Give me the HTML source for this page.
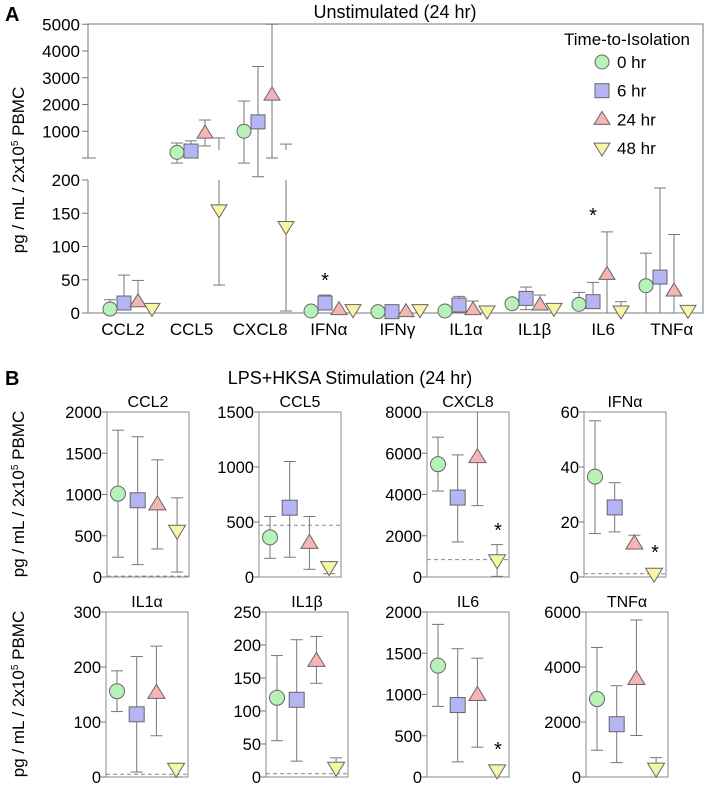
<!DOCTYPE html>
<html><head><meta charset="utf-8">
<style>
html,body{margin:0;padding:0;background:#fff;}
svg{display:block;font-family:"Liberation Sans",Arial,sans-serif;}
</style></head>
<body>
<svg id="fig" width="708" height="786" viewBox="0 0 708 786" xmlns="http://www.w3.org/2000/svg">
<text x="5" y="21" font-size="20" font-weight="bold">A</text>
<text x="395" y="18" font-size="18" text-anchor="middle">Unstimulated (24 hr)</text>
<text x="5" y="385" font-size="20" font-weight="bold">B</text>
<text x="350" y="384" font-size="18" text-anchor="middle">LPS+HKSA Stimulation (24 hr)</text>
<text transform="translate(24,170) rotate(-90)" font-size="17" text-anchor="middle">pg / mL / 2x10<tspan font-size="10" dy="-6">5</tspan><tspan dy="6"> PBMC</tspan></text>
<text transform="translate(24,494) rotate(-90)" font-size="17" text-anchor="middle">pg / mL / 2x10<tspan font-size="10" dy="-6">5</tspan><tspan dy="6"> PBMC</tspan></text>
<text transform="translate(24,694) rotate(-90)" font-size="17" text-anchor="middle">pg / mL / 2x10<tspan font-size="10" dy="-6">5</tspan><tspan dy="6"> PBMC</tspan></text>
<g id="gA"></g>
<g id="gB"></g>
</svg>
<script>
// ---- Panel A data ----
const catsA = ["CCL2","CCL5","CXCL8","IFN\u03b1","IFN\u03b3","IL1\u03b1","IL1\u03b2","IL6","TNF\u03b1"];
const seriesNames = ["0 hr","6 hr","24 hr","48 hr"];
const upperTicksA = [1000,2000,3000,4000,5000];
const lowerTicksA = [0,50,100,150,200];
const a0Mean = [6,210,1000,3,2,3,14,13,41];
const a0Hi   = [20,560,2130,null,null,null,null,31,90];
const a0Lo   = [null,-190,-190,null,null,null,null,null,0];
const a6Mean = [15,260,1350,15,2,12,22,17,54];
const a6Hi   = [57,640,3420,27,null,25,39,46,188];
const a6Lo   = [null,0,-700,null,null,null,5,null,0];
const a24Mean= [17,930,2350,5,2,5,12,58,33];
const a24Hi  = [49,1420,5000,null,null,18,27,122,118];
const a24Lo  = [null,450,0,null,null,null,null,0,0];
const a48Mean= [7,155,130,5,5,3,7,3,4];
const a48Hi  = [null,750,520,null,8,null,null,17,10];
const a48Lo  = [null,42,3,null,null,null,null,null,null];
const starsA = ["IFN\u03b1","IL6"];

// ---- Panel B data ----
const catsB = ["CCL2","CCL5","CXCL8","IFN\u03b1","IL1\u03b1","IL1\u03b2","IL6","TNF\u03b1"];
const maxB = [2000,1500,8000,60,300,250,2000,6000];
const stepB = [500,500,2000,20,100,50,500,2000];
const dashB = [10,470,840,1.2,5,5,0,0];
const bMean = [[1010,930,880,560],[360,630,310,90],[5470,3850,5810,810],[36.5,25.3,12.2,1.2],
               [156,114,153,15],[120,117,176,14],[1350,872,994,80],[2835,1920,3565,305]];
const bHi   = [[1780,1700,1420,960],[550,1050,550,null],[6780,5920,8000,1570],[56.8,34.3,15.2,null],
               [193,219,238,null],[184,208,213,29],[1850,1555,1440,142],[4710,3320,5710,705]];
const bLo   = [[240,150,340,60],[170,180,70,30],[4170,1700,3460,30],[15.8,16.4,null,null],
               [119,9,75,0],[55,24,142,null],[856,183,362,null],[973,523,1510,null]];
const starsB = ["CXCL8","IFN\u03b1","IL6"];
const starYB = [null,null,2330,9.5,null,null,350,null];

// ---- drawing ----
const NS="http://www.w3.org/2000/svg";
const fills=["#b9f2b9","#b5b5f5","#f5b5b5","#f8f5a8"];
const STROKE="#666";
function mk(tag,attrs,parent){const e=document.createElementNS(NS,tag);for(const k in attrs)e.setAttribute(k,attrs[k]);parent.appendChild(e);return e;}
function line(p,x1,y1,x2,y2,extra){return mk("line",Object.assign({x1,y1,x2,y2,stroke:"#777","stroke-width":1},extra||{}),p);}
function marker(p,k,x,y,s){
  let e;
  if(k===0) e=mk("circle",{cx:x,cy:y,r:s,fill:fills[0],stroke:STROKE},p);
  else if(k===1) e=mk("rect",{x:x-s,y:y-s,width:2*s,height:2*s,fill:fills[1],stroke:STROKE},p);
  else if(k===2) e=mk("polygon",{points:`${x},${y-s-1} ${x-s-1},${y+s-2} ${x+s+1},${y+s-2}`,fill:fills[2],stroke:STROKE},p);
  else e=mk("polygon",{points:`${x},${y+s+1} ${x-s-1},${y-s+2} ${x+s+1},${y-s+2}`,fill:fills[3],stroke:STROKE},p);
  return e;
}
const gA=document.getElementById("gA");
const AL=88,AR=703,AT=24,AB=313;
function yUp(v){return 158-v*0.02675;}
function yLow(v){return 313-v*0.665;}
mk("polyline",{points:`${AL},158 ${AL},${AT} ${AR},${AT} ${AR},${AB} ${AL},${AB} ${AL},180`,fill:"none",stroke:"#777"},gA);
line(gA,AL-6,158,AL+8,158);
upperTicksA.forEach(t=>{line(gA,AL-6,yUp(t),AL,yUp(t));const tx=mk("text",{x:AL-8,y:yUp(t)+6,"font-size":17,"text-anchor":"end"},gA);tx.textContent=t;

});
lowerTicksA.forEach(t=>{line(gA,AL-6,yLow(t),AL,yLow(t));const tx=mk("text",{x:AL-8,y:yLow(t)+6,"font-size":17,"text-anchor":"end"},gA);tx.textContent=t;

});
catsA.forEach((c,i)=>{const tx=mk("text",{x:123+68.6*i,y:335,"font-size":17,"text-anchor":"middle"},gA);tx.textContent=c;

});
const AS=[[a0Mean,a0Hi,a0Lo],[a6Mean,a6Hi,a6Lo],[a24Mean,a24Hi,a24Lo],[a48Mean,a48Hi,a48Lo]];
AS.forEach((s,k)=>{
  const g=mk("g",{},gA);
  
  
  s[0].forEach((m,i)=>{
    const x=110+67*i+14*k;
    const up=m>200;
    const f=up?yUp:yLow;
    const ym=f(m);
    const hi=s[1][i], lo=s[2][i];
    if(hi!=null){
      if(!up && hi>200){line(g,x,ym,x,yLow(200));line(g,x,150,x,yUp(hi));line(g,x-6,yUp(hi),x+6,yUp(hi));}
      else{line(g,x,ym,x,f(hi));line(g,x-6,f(hi),x+6,f(hi));}
    }
    if(lo!=null){line(g,x,ym,x,f(lo));line(g,x-6,f(lo),x+6,f(lo));}
    const mm=marker(g,k,x,ym,7);
    
    
  });
});
starsA.forEach(c=>{const i=catsA.indexOf(c);const tx=mk("text",{x:110+67*i+14,y:(i===7?222:287),"font-size":20,"text-anchor":"middle"},gA);tx.textContent="*";

});
const lg=mk("g",{},gA);


const lt=mk("text",{x:627,y:45,"font-size":17,"text-anchor":"middle"},lg);lt.textContent="Time-to-Isolation";
seriesNames.forEach((n,k)=>{const y=62+28.7*k;marker(lg,k,602,y,7);const tx=mk("text",{x:617,y:y+6,"font-size":17},lg);tx.textContent=n;

});

// Panel B
const gB=document.getElementById("gB");
const boxL=[107,259,427,584,106,266,427,586];
catsB.forEach((c,p)=>{
  const L=boxL[p], W=82, T=p<4?412:612, B=p<4?577:777;
  const g=mk("g",{},gB);
  
  
  const y=v=>B-(v/maxB[p])*(B-T);
  mk("rect",{x:L,y:T,width:W,height:B-T,fill:"none",stroke:"#888"},g);
  const tt=mk("text",{x:L+W/2,y:T-5,"font-size":16,"text-anchor":"middle"},g);tt.textContent=c;
  for(let t=0;t<=maxB[p]+1e-9;t+=stepB[p]){
    line(g,L-5,y(t),L,y(t));
    const tx=mk("text",{x:L-5,y:y(t)+6,"font-size":16.5,"text-anchor":"end"},g);tx.textContent=t;
    
    
  }
  line(g,L,y(dashB[p]),L+W,y(dashB[p]),{"stroke-dasharray":"4,3",stroke:"#888"});
  for(let k=0;k<4;k++){
    const x=L+11+19.7*k, m=bMean[p][k]; const ym=y(m);
    const hi=bHi[p][k], lo=bLo[p][k];
    if(hi!=null){line(g,x,ym,x,y(hi));if(hi<maxB[p])line(g,x-6,y(hi),x+6,y(hi));}
    if(lo!=null){line(g,x,ym,x,y(lo));line(g,x-6,y(lo),x+6,y(lo));}
    const mm=marker(g,k,x,ym,7.5);
    
    
  }
  if(starsB.indexOf(c)>=0){const tx=mk("text",{x:L+W-11,y:y(starYB[p])+8,"font-size":20,"text-anchor":"middle"},g);tx.textContent="*";
    
    }
});
</script>
</body></html>
